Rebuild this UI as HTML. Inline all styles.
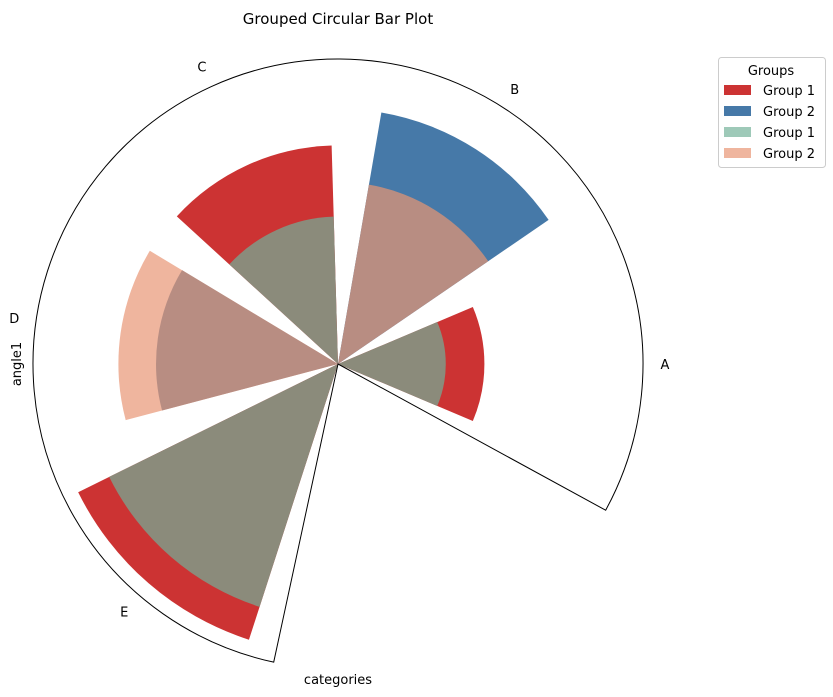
<!DOCTYPE html>
<html><head><meta charset="utf-8"><style>
body{margin:0;background:#fff;}
svg{display:block;font-family:"DejaVu Sans","Liberation Sans",sans-serif;}
</style></head><body>
<svg id="chart" width="833" height="697" viewBox="0 0 833 697">
<text x="338" y="24" text-anchor="middle" font-size="15">Grouped Circular Bar Plot</text>
<g id="bars"></g>
<g id="frame"></g>
<g id="labels" font-size="13"></g>
<text x="338" y="684" text-anchor="middle" font-size="13">categories</text>
<text transform="translate(21,364) rotate(-90)" text-anchor="middle" font-size="13">angle1</text>
<g>
<rect x="718.5" y="57.5" width="107" height="110" rx="3" fill="#fff" stroke="#ccc"/>
<text x="771" y="75" text-anchor="middle" font-size="13">Groups</text>
<rect x="724" y="85" width="27" height="10" fill="#cc3333"/>
<text x="763" y="95" font-size="13">Group 1</text>
<rect x="724" y="106" width="27" height="10" fill="#4679a8"/>
<text x="763" y="116" font-size="13">Group 2</text>
<rect x="724" y="127" width="27" height="10" fill="#9ec9b8"/>
<text x="763" y="137" font-size="13">Group 1</text>
<rect x="724" y="148" width="27" height="10" fill="#efb59e"/>
<text x="763" y="158" font-size="13">Group 2</text>
</g>
</svg>
<script>
const categories = ["A","B","C","D","E"];
const outerValues = [14.4, 25.1, 21.5, 21.6, 28.5];
const innerValues = [10.6, 17.9, 14.5, 17.9, 25.1];
const outerColors = ["#cc3333","#4679a8","#cc3333","#efb59e","#cc3333"];
const innerColors = ["#8b8b7b","#b88d82","#8b8b7b","#b88d82","#8b8b7b"];
const rMaxValue = 30;

const cx = 338, cy = 364, R = 305, halfW = 0.4;
const NS = "http://www.w3.org/2000/svg";
function rScale(v){ return v / rMaxValue * R; }
function thetaScale(i){ return i; }
function pt(r, t){ return [cx + r*Math.cos(t), cy - r*Math.sin(t)]; }
function wedge(r, t0, t1){
  const a = pt(r, t0), b = pt(r, t1);
  const large = (t1 - t0) > Math.PI ? 1 : 0;
  return `M${cx},${cy} L${a[0]},${a[1]} A${r},${r} 0 ${large} 0 ${b[0]},${b[1]} Z`;
}
const gb = document.getElementById('bars');
categories.forEach((c, i) => {
  const t = thetaScale(i);
  const o = document.createElementNS(NS, 'path');
  o.setAttribute('d', wedge(rScale(outerValues[i]), t - halfW, t + halfW));
  o.setAttribute('fill', outerColors[i]);
  
  
  gb.appendChild(o);
  const n = document.createElementNS(NS, 'path');
  n.setAttribute('d', wedge(rScale(innerValues[i]), t - halfW, t + halfW));
  n.setAttribute('fill', innerColors[i]);
  
  
  gb.appendChild(n);
});
const fr = document.getElementById('frame');
const f = document.createElementNS(NS, 'path');
f.setAttribute('d', wedge(R, -0.5, 4.5));
f.setAttribute('fill', 'none');
f.setAttribute('stroke', '#000');
f.setAttribute('stroke-width', '1');


fr.appendChild(f);
const gl = document.getElementById('labels');
categories.forEach((c, i) => {
  const p = pt(R + 22, thetaScale(i));
  const tx = document.createElementNS(NS, 'text');
  tx.setAttribute('x', p[0]);
  tx.setAttribute('y', p[1] + 5);
  tx.setAttribute('text-anchor', 'middle');
  tx.textContent = c;
  
  
  gl.appendChild(tx);
});
</script>
</body></html>
